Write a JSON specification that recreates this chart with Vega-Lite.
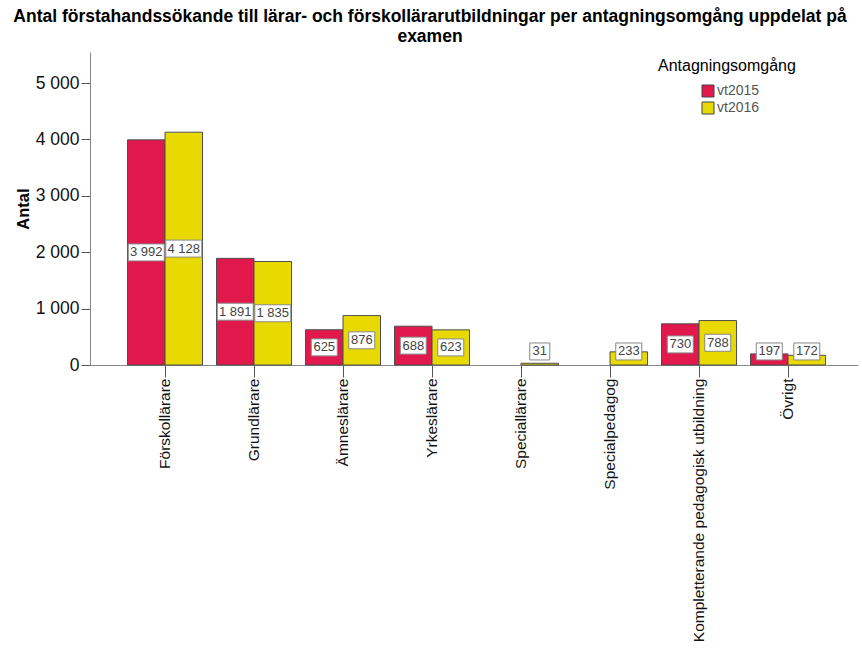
{
  "$schema": "https://vega.github.io/schema/vega-lite/v6.json",
  "width": 768,
  "height": 313,
  "autosize": {"type": "none"},
  "padding": {"left": 90, "top": 52, "right": 4, "bottom": 283},
  "background": "white",
  "title": {
    "text": ["Antal förstahandssökande till lärar- och förskollärarutbildningar per antagningsomgång uppdelat på", "examen"],
    "anchor": "middle",
    "dx": -44,
    "offset": 7,
    "fontSize": 17.5,
    "fontWeight": "bold",
    "font": "Liberation Sans",
    "color": "#000000",
    "lineHeight": 19.5
  },
  "config": {
    "locale": {"number": {"decimal": ",", "thousands": " ", "grouping": [3], "currency": ["", " kr"]}},
    "font": "Liberation Sans",
    "view": {"stroke": null},
    "axis": {"grid": false}
  },
  "data": {
    "values": [
      {"examen": "Förskollärare", "omgang": "vt2015", "antal": 3992},
      {"examen": "Förskollärare", "omgang": "vt2016", "antal": 4128},
      {"examen": "Grundlärare", "omgang": "vt2015", "antal": 1891},
      {"examen": "Grundlärare", "omgang": "vt2016", "antal": 1835},
      {"examen": "Ämneslärare", "omgang": "vt2015", "antal": 625},
      {"examen": "Ämneslärare", "omgang": "vt2016", "antal": 876},
      {"examen": "Yrkeslärare", "omgang": "vt2015", "antal": 688},
      {"examen": "Yrkeslärare", "omgang": "vt2016", "antal": 623},
      {"examen": "Speciallärare", "omgang": "vt2016", "antal": 31},
      {"examen": "Specialpedagog", "omgang": "vt2016", "antal": 233},
      {"examen": "Kompletterande pedagogisk utbildning", "omgang": "vt2015", "antal": 730},
      {"examen": "Kompletterande pedagogisk utbildning", "omgang": "vt2016", "antal": 788},
      {"examen": "Övrigt", "omgang": "vt2015", "antal": 197},
      {"examen": "Övrigt", "omgang": "vt2016", "antal": 172}
    ]
  },
  "encoding": {
    "x": {
      "field": "examen",
      "type": "nominal",
      "sort": null,
      "scale": {"paddingInner": 0.157, "paddingOuter": 0.393, "align": 0.536},
      "axis": {
        "title": null,
        "labelAngle": -90,
        "labelFontSize": 15.5,
        "labelColor": "#111111",
        "labelPadding": 1,
        "labelLimit": 0,
        "tickSize": 12,
        "tickColor": "#555555",
        "domainColor": "#888888"
      }
    },
    "xOffset": {"field": "omgang", "type": "nominal", "scale": {"domain": ["vt2015", "vt2016"]}}
  },
  "layer": [
    {
      "mark": {"type": "bar", "stroke": "#4d4d4d", "strokeWidth": 1},
      "encoding": {
        "y": {
          "field": "antal",
          "type": "quantitative",
          "scale": {"domain": [0, 5550], "nice": false},
          "axis": {
            "title": "Antal",
            "titleFontSize": 16.5,
            "titleFontWeight": "bold",
            "titleColor": "#000000",
            "titlePadding": 4,
            "values": [0, 1000, 2000, 3000, 4000, 5000],
            "format": ",d",
            "labelFontSize": 17.5,
            "labelColor": "#111111",
            "labelPadding": 2,
            "tickSize": 9,
            "tickColor": "#555555",
            "domainColor": "#888888"
          }
        },
        "color": {
          "field": "omgang",
          "type": "nominal",
          "scale": {"domain": ["vt2015", "vt2016"], "range": ["#E0184C", "#E8D900"]},
          "legend": {
            "title": "Antagningsomgång",
            "orient": "none",
            "legendX": 568,
            "legendY": 6,
            "titleFontSize": 16,
            "titleFontWeight": "normal",
            "titleColor": "#000000",
            "titlePadding": 10,
            "symbolType": "square",
            "symbolSize": 144,
            "symbolStrokeColor": "#444444",
            "symbolStrokeWidth": 1,
            "symbolOffset": 43,
            "labelFontSize": 14,
            "labelColor": "#555555",
            "labelOffset": 2,
            "rowPadding": 1
          }
        }
      }
    },
    {
      "transform": [{"calculate": "max(datum.antal / 2, 240)", "as": "mitt"}],
      "mark": {"type": "point", "filled": true, "fill": "white", "stroke": "#888888", "strokeWidth": 1, "opacity": 1, "size": 400},
      "encoding": {
        "y": {"field": "mitt", "type": "quantitative", "scale": {"domain": [0, 5550], "nice": false}},
        "shape": {
          "condition": [
            {"test": "datum.antal >= 1000", "value": "M-1.8,-0.85H1.8V0.85H-1.8Z"},
            {"test": "datum.antal < 100", "value": "M-1,-0.85H1V0.85H-1Z"}
          ],
          "value": "M-1.3,-0.85H1.3V0.85H-1.3Z"
        }
      }
    },
    {
      "transform": [{"calculate": "max(datum.antal / 2, 240)", "as": "mitt"}],
      "mark": {"type": "text", "fontSize": 13, "color": "#444444", "align": "center", "baseline": "middle"},
      "encoding": {
        "y": {"field": "mitt", "type": "quantitative", "scale": {"domain": [0, 5550], "nice": false}},
        "text": {"field": "antal", "type": "quantitative", "format": ",d"}
      }
    }
  ]
}
